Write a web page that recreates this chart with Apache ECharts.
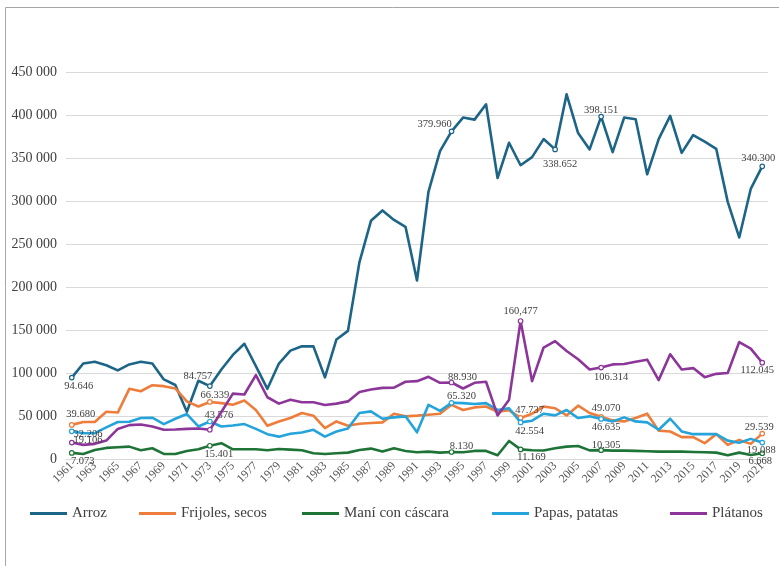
<!DOCTYPE html>
<html>
<head>
<meta charset="utf-8">
<script src="https://cdn.jsdelivr.net/npm/echarts@6/dist/echarts.min.js"></script>
<style>
html,body{margin:0;padding:0;background:#fff;}
#chart{width:779px;height:566px;}
</style>
</head>
<body>
<div id="chart"></div>
<script>
// ---------- DATA ----------
const years = [];
for (let y = 1961; y <= 2021; y++) years.push(String(y));

const seriesNames = ['Arroz', 'Frijoles, secos', 'Maní con cáscara', 'Papas, patatas', 'Plátanos'];

const arroz = [94646,111000,113000,109000,103000,110000,113000,111000,92500,86000,
  55000,91000,84757,104000,121000,134000,108000,81600,111000,126000,
  131000,131000,95000,139000,149000,229000,277000,289000,278000,270000,
  207600,311000,358000,381000,397000,394600,412500,326700,367700,341600,
  351000,372000,360000,424000,379000,360000,398151,356800,397000,395000,
  331000,372000,399000,356000,376700,369000,360700,299000,257600,314000,
  340300];

const frijoles = [39680,43000,43000,55000,54000,81600,78800,85800,84700,82000,
  67000,61000,66339,65000,63000,68000,57000,38600,43700,47600,
  53500,50400,35900,43700,38600,41000,41800,42600,52700,49600,
  50400,51500,52700,63000,57000,60000,61000,55000,56600,47737,
  52700,61000,59000,50700,62000,53500,49070,44900,43700,47600,
  52700,33000,32000,25400,25400,18400,28900,16400,22200,17600,
  29539];

const mani = [7073,5900,10500,12900,13700,14400,10100,12500,5900,5900,
  9400,11300,15401,18400,11300,11300,11300,10100,11700,10900,
  10100,6600,5900,6600,7400,10500,12100,8600,12500,9400,
  7800,8600,7400,8130,7800,9400,9400,4300,21000,11169,
  10100,9800,12500,14400,15200,10000,10305,9700,9700,9400,
  9000,8600,8600,8600,8200,7800,7400,4300,7400,4700,
  6668];

const papas = [32206,30000,30000,36700,43000,43300,47600,48000,40600,46800,
  52300,37800,43576,37800,39000,40600,35000,28900,26000,29300,
  30800,34000,26000,32000,35500,53500,55400,46800,48400,49600,
  31000,63000,56000,65320,65000,64000,65000,57000,59000,42554,
  44500,52700,50700,57000,47600,49600,46635,43700,48400,43700,
  42600,34000,46800,32000,28900,28900,28900,21400,19000,23400,
  19088];

const platanos = [19106,16400,17600,21400,35000,39400,40200,37800,34000,34300,
  35000,35500,34000,54600,76000,75000,97600,71800,64400,69000,
  66000,66000,62800,64400,67000,78000,80800,82700,83000,89800,
  90500,95600,88600,88930,82000,88600,89800,50700,69000,160477,
  90500,129600,137000,125600,116000,104000,106314,110000,110400,113000,
  115500,91700,121800,104000,105700,95200,99000,100000,136000,128400,
  112045];

// data-label texts, by year
const arrozLabels    = {'1961':'94.646','1973':'84.757','1994':'379.960','2003':'338.652','2007':'398.151','2021':'340.300'};
const frijolesLabels = {'1961':'39.680','1973':'66.339','2000':'47.737','2007':'49.070','2021':'29.539'};
const maniLabels     = {'1961':'7.073','1973':'15.401','1994':'8.130','2000':'11.169','2007':'10.305','2021':'6.668'};
const papasLabels    = {'1961':'32.206','1973':'43.576','1994':'65.320','2000':'42.554','2007':'46.635','2021':'19.088'};
const platanosLabels = {'1961':'19.106','1973':'','1994':'88.930','2000':'160,477','2007':'106.314','2021':'112.045'};

const yTicks = [0, 50000, 100000, 150000, 200000, 250000, 300000, 350000, 400000, 450000];

// ---------- STYLE ----------
const colors = ['#1d6586', '#ee7d3b', '#1e7337', '#24a4da', '#8d3699'];
const FONT = '"Liberation Serif", "DejaVu Serif", serif';

// label placement [position, offset]
const labelPlace = {
  'Arroz': {'1961':['bottom',[7,-3]],'1973':['top',[-12,1]],'1994':['left',[6,-7]],'2003':['bottom',[5,3]],'2007':['top',[0,5]],'2021':['top',[-4,3]]},
  'Frijoles, secos': {'1961':['top',[9,1]],'1973':['top',[5,5]],'2000':['top',[9,4]],'2007':['top',[5,3]],'2021':['top',[-3,5]]},
  'Maní con cáscara': {'1961':['bottom',[11,-3]],'1973':['bottom',[9,-3]],'1994':['top',[10,6]],'2000':['bottom',[11,-3]],'2007':['top',[5,6]],'2021':['bottom',[-2,-3]]},
  'Papas, patatas': {'1961':['right',[-4,3]],'1973':['top',[9,5]],'1994':['top',[10,5]],'2000':['bottom',[9,-3]],'2007':['bottom',[5,-3]],'2021':['bottom',[-1,-4]]},
  'Plátanos': {'1961':['right',[-4,-2]],'1973':['top',[0,0]],'1994':['top',[11,6]],'2000':['top',[0,2]],'2007':['bottom',[10,-2]],'2021':['bottom',[-5,-4]]}
};

function buildData(name, values, labels, color) {
  return values.map((v, i) => {
    const yr = years[i];
    if (labels[yr] === undefined) return { value: v, symbol: 'none' };
    const pl = labelPlace[name][yr];
    return {
      value: v,
      symbol: 'circle',
      symbolSize: 4.5,
      itemStyle: { color: '#ffffff', borderColor: color, borderWidth: 1.2 },
      label: {
        show: labels[yr] !== '',
        formatter: labels[yr],
        position: pl[0],
        offset: pl[1],
        distance: 3,
        color: '#404040',
        fontFamily: FONT,
        fontSize: 10.5
      }
    };
  });
}

const allValues = [arroz, frijoles, mani, papas, platanos];
const allLabels = [arrozLabels, frijolesLabels, maniLabels, papasLabels, platanosLabels];

const series = seriesNames.map((n, k) => ({
  name: n,
  type: 'line',
  data: buildData(n, allValues[k], allLabels[k], colors[k]),
  color: colors[k],
  showAllSymbol: true,
  symbol: 'circle',
  lineStyle: { width: 2.6, color: colors[k], join: 'round' },
  emphasis: { disabled: true },
  z: 2 + k
}));

const legendLefts = [25, 134, 297, 487, 665];
const legends = seriesNames.map((n, k) => ({
  data: [n],
  left: legendLefts[k],
  top: 501,
  icon: 'rect',
  itemWidth: 37,
  itemHeight: 3,
  itemGap: 5,
  textStyle: { fontFamily: FONT, fontSize: 15, color: '#404040' },
  selectedMode: false
}));

const chart = echarts.init(document.getElementById('chart'), null, { renderer: 'canvas' });
chart.setOption({
  animation: false,
  backgroundColor: '#ffffff',
  graphic: [{
    type: 'rect',
    shape: { x: 5.5, y: 7.5, width: 800, height: 620 },
    style: { fill: 'none', stroke: '#a6a6a6', lineWidth: 1 },
    silent: true
  }],
  grid: { left: 66, right: 11, top: 72, bottom: 107, containLabel: false },
  legend: legends,
  xAxis: {
    type: 'category',
    data: years,
    boundaryGap: true,
    axisLine: { show: true, lineStyle: { color: '#d9d9d9', width: 1 } },
    axisTick: { show: false },
    axisLabel: {
      interval: 1,
      rotate: 45,
      margin: 5,
      color: '#595959',
      fontFamily: FONT,
      fontSize: 12
    }
  },
  yAxis: {
    type: 'value',
    min: yTicks[0],
    max: yTicks[yTicks.length - 1],
    interval: 50000,
    axisLine: { show: false },
    axisTick: { show: false },
    splitLine: { lineStyle: { color: '#d9d9d9', width: 1 } },
    axisLabel: {
      margin: 9,
      color: '#404040',
      fontFamily: FONT,
      fontSize: 14,
      formatter: v => v === 0 ? '0' : String(v).replace(/\B(?=(\d{3})+(?!\d))/g, ' ')
    }
  },
  series: series
});
</script>
</body>
</html>
